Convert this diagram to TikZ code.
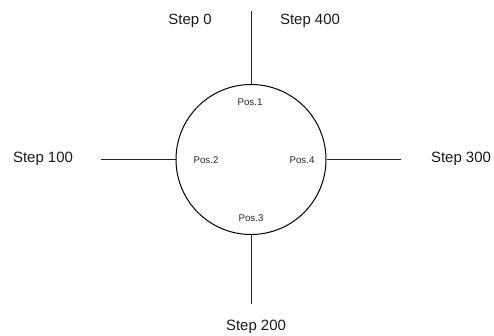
\documentclass[tikz,border=0pt]{standalone}
\usepackage{fontspec}
\setmainfont{Liberation Sans}
\begin{document}
\begin{tikzpicture}[x=0.75pt,y=-0.75pt,
  ring/.style={draw=black,line width=0.75pt,circle,minimum size=112.5pt,inner sep=0pt},
  spoke/.style={draw=black!85,line width=0.75pt},
  steplabel/.style={font=\fontsize{11.2}{13}\selectfont,inner sep=0pt,text=black!90},
  poslabel/.style={font=\fontsize{7.3}{9}\selectfont,inner sep=0pt,text=black!85}]
\useasboundingbox (0,0) rectangle (494,336);
\node[ring] (c) at (251,159.5) {};
\coordinate (tEnd) at (251,11);
\coordinate (bEnd) at (251,304);
\coordinate (lEnd) at (101,159.5);
\coordinate (rEnd) at (401,159.5);
\draw[spoke] (c.north) -- (tEnd);
\draw[spoke] (c.south) -- (bEnd);
\draw[spoke] (c.west) -- (lEnd);
\draw[spoke] (c.east) -- (rEnd);
\node[poslabel] (p1) at (250,102) {Pos.1};
\node[poslabel] (p2) at (206,160) {Pos.2};
\node[poslabel] (p3) at (251,218) {Pos.3};
\node[poslabel] (p4) at (302,160) {Pos.4};
\node[steplabel] (s0) at (190,21) {Step 0};
\node[steplabel] (s400) at (310,21) {Step 400};
\node[steplabel] (s100) at (43,159) {Step 100};
\node[steplabel] (s300) at (461,159) {Step 300};
\node[steplabel] (s200) at (256,327) {Step 200};
\end{tikzpicture}
\end{document}
